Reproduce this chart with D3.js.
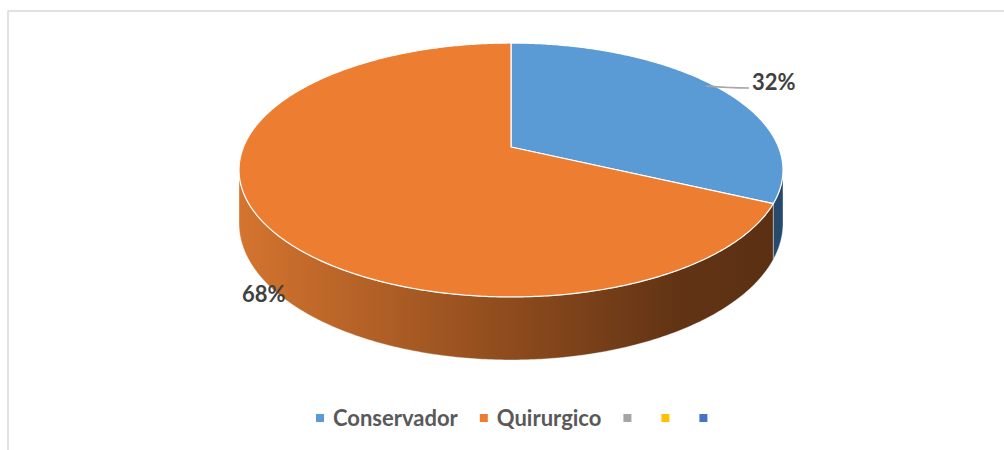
<!DOCTYPE html>
<html>
<head>
<meta charset="utf-8">
<script src="https://cdn.jsdelivr.net/npm/d3@7/dist/d3.min.js"></script>
<style>
  html, body { margin: 0; padding: 0; background: #fff; }
  svg { display: block; }
</style>
</head>
<body>
<svg id="chart" width="1004" height="450"></svg>
<script>
// ---- data ----
const categories = ["Conservador", "Quirurgico"];
const values = [32, 68];
const percentLabels = ["32%", "68%"];
const legendLabels = ["Conservador", "Quirurgico", "", "", ""];
const legendColors = ["#5B9BD5", "#ED7D31", "#A5A5A5", "#FFC000", "#4472C4"];

// ---- geometry (perspective projection of a flat disc) ----
const W = 1004, H = 450;
const cx = 511, cy = 147;        // projected centre of the disc
const k = 0.181;                 // perspective strength
const A = 267.5, B = 122.8;      // horizontal / depth scale
const D = 51.6;                  // thickness

function proj(theta, drop) {
  const u = Math.sin(theta), v = -Math.cos(theta);
  const w = 1 - k * v;
  return [cx + A * u / w, cy + B * v / w + (drop || 0) / w];
}

const svg = d3.select("#chart");
const defs = svg.append("defs");

// chart border
svg.append("rect")
  .attr("x", 8).attr("y", 11)
  .attr("width", 1010).attr("height", 460)
  .attr("fill", "none").attr("stroke", "#D9D9D9").attr("stroke-width", 1.5);

const pie = d3.pie().sort(null).value(d => d)(values);

// side gradients
const sideStops = [
  [["0", "#D4742F"], ["0.5", "#8E4B1D"], ["0.8", "#623415"], ["1", "#5A3012"]],
  [["0", "#3A6FA0"], ["0.5", "#2F5B85"], ["1", "#254A6E"]]
];
const sideIdx = [1, 0]; // blue uses stops[1], orange uses stops[0]
values.forEach((v, i) => {
  const g = defs.append("linearGradient")
    .attr("id", "side" + i)
    .attr("gradientUnits", "userSpaceOnUse")
    .attr("x1", cx - A / Math.sqrt(1 - k * k)).attr("y1", 0)
    .attr("x2", cx + A / Math.sqrt(1 - k * k)).attr("y2", 0);
  sideStops[sideIdx[i]].forEach(s => g.append("stop").attr("offset", s[0]).attr("stop-color", s[1]));
});

// front visible range: from rightmost to leftmost point
const thR = Math.acos(-k);            // ~100.4 deg
const thL = 2 * Math.PI - thR;        // ~259.6 deg

function sample(a0, a1, drop) {
  const n = Math.max(2, Math.ceil((a1 - a0) / 0.01));
  const pts = [];
  for (let j = 0; j <= n; j++) pts.push(proj(a0 + (a1 - a0) * j / n, drop));
  return pts;
}

// sides
const sideG = svg.append("g");
pie.forEach((d, i) => {
  const a0 = Math.max(d.startAngle, thR), a1 = Math.min(d.endAngle, thL);
  if (a1 <= a0) return;
  const top = sample(a0, a1, 0);
  const bot = sample(a0, a1, D).reverse();
  sideG.append("path")
    .attr("d", d3.line()(top.concat(bot)) + "Z")
    .attr("fill", "url(#side" + i + ")")
    .attr("stroke", "#ffffff").attr("stroke-width", 0.6).attr("stroke-opacity", 0.6);
});

// tops
const topG = svg.append("g");
pie.forEach((d, i) => {
  const pts = [[cx, cy]].concat(sample(d.startAngle, d.endAngle, 0));
  topG.append("path")
    .attr("d", d3.line()(pts) + "Z")
    .attr("fill", legendColors[i])
    .attr("stroke", "#ffffff").attr("stroke-width", 1.2).attr("stroke-linejoin", "round");
});

// labels
const labelFont = "Lato, 'DejaVu Sans', sans-serif";
const labelPos = [[752, 90, "start"], [242, 302, "start"]];
svg.append("path")
  .attr("d", "M706,86 Q730,88 749,88")
  .attr("fill", "none").attr("stroke", "#A6A6A6").attr("stroke-width", 1.3);
pie.forEach((d, i) => {
  svg.append("text")
    .attr("x", labelPos[i][0]).attr("y", labelPos[i][1])
    .attr("text-anchor", labelPos[i][2])
    .attr("font-family", labelFont).attr("font-weight", 700)
    .attr("font-size", 22).attr("fill", "#404040")
    .text(percentLabels[i]);
});

// legend
const legG = svg.append("g");
const sq = 8, gapText = 9, gapItem = 22, gapEmpty = 21;
let xCursor = 0;
const items = [];
legendLabels.forEach((lab, i) => {
  const g = legG.append("g");
  g.append("rect").attr("x", 0).attr("y", -4).attr("width", sq).attr("height", sq)
    .attr("fill", legendColors[i]);
  const t = g.append("text").attr("x", sq + gapText).attr("y", 0)
    .attr("dy", "0.36em")
    .attr("font-family", labelFont).attr("font-weight", 700)
    .attr("font-size", 22).attr("fill", "#595959").text(lab);
  const tw = lab ? t.node().getComputedTextLength() : 0;
  items.push({ g, x: xCursor });
  xCursor += sq + gapText + tw + (lab ? gapItem : gapEmpty);
});
const startX = 316;
items.forEach(it => it.g.attr("transform", `translate(${startX + it.x},418)`));
</script>
</body>
</html>
